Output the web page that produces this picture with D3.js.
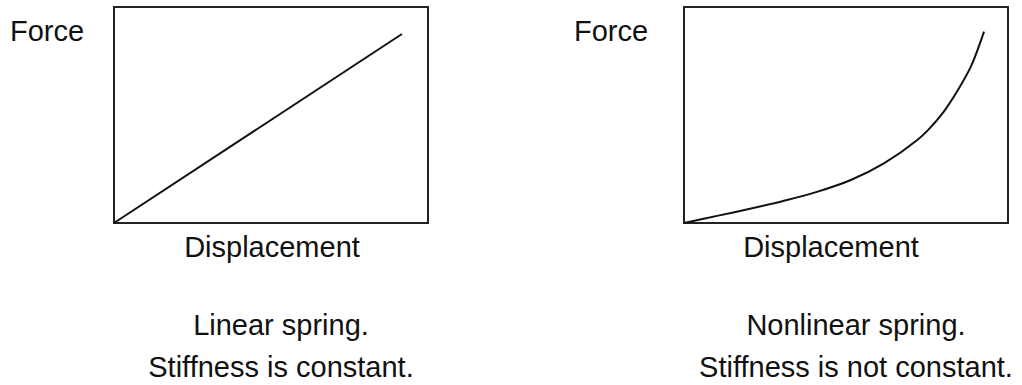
<!DOCTYPE html>
<html lang="en">
<head>
  <meta charset="UTF-8">
  <title>Linear vs Nonlinear Spring</title>
  <script src="https://d3js.org/d3.v7.min.js"></script>
  <style>
    body {
      margin: 0;
      padding: 0;
      background: #fff;
    }

    text {
      font-family: 'Liberation Sans', Arial, sans-serif;
      font-size: 29px;
      fill: #111;
    }

    .frame {
      fill: none;
      stroke: #222;
      stroke-width: 2px;
    }

    .curve {
      fill: none;
      stroke: #111;
      stroke-width: 2px;
    }
  </style>
</head>
<body>
  <div id="chart"></div>

  <script>
    // displacement / force readings, both axes 0..10 (arbitrary units)
    const linearDisp = [0, 9.17];
    const linearForce = [0, 8.75];

    const nonlinearDisp = [0, 1.02, 2.07, 3.09, 4.1, 5.15, 6.17, 7.19, 7.53, 8.02, 8.44, 8.86, 9.26];
    const nonlinearForce = [0, 0.33, 0.67, 1.03, 1.44, 1.99, 2.76, 3.83, 4.3, 5.16, 6.12, 7.26, 8.86];

    const panelTitles = ["Linear spring.", "Nonlinear spring."];
    const panelNotes = ["Stiffness is constant.", "Stiffness is not constant."];

    const width = 1022, height = 385;

    const svg = d3.select("#chart")
      .append("svg")
      .attr("width", width)
      .attr("height", height);

    const panels = [
      { x0: 114, x1: 428, forceX: 10, dispX: 272, capX: 281, disp: linearDisp, force: linearForce, curve: d3.curveLinear },
      { x0: 684, x1: 1008, forceX: 574, dispX: 831, capX: 856, disp: nonlinearDisp, force: nonlinearForce, curve: d3.curveCatmullRom.alpha(0.5) }
    ];
    const frameTop = 7, frameBottom = 223;

    panels.forEach((p, i) => {
      const x = d3.scaleLinear().domain([0, 10]).range([p.x0, p.x1]);
      const y = d3.scaleLinear().domain([0, 10]).range([frameBottom, frameTop]);

      const g = svg.append("g");

      g.append("rect")
        .attr("class", "frame")
        .attr("x", x(0))
        .attr("y", y(10))
        .attr("width", x(10) - x(0))
        .attr("height", y(0) - y(10));

      const pts = p.disp.map((d, j) => [d, p.force[j]]);
      const line = d3.line()
        .x(d => x(d[0]))
        .y(d => y(d[1]))
        .curve(p.curve);

      g.append("path")
        .attr("class", "curve")
        .attr("d", line(pts));

      g.append("text")
        .attr("x", p.forceX)
        .attr("y", 41)
        .text("Force");

      g.append("text")
        .attr("x", p.dispX)
        .attr("y", 257)
        .attr("text-anchor", "middle")
        .text("Displacement");

      g.append("text")
        .attr("x", p.capX)
        .attr("y", 335)
        .attr("text-anchor", "middle")
        .text(panelTitles[i]);

      g.append("text")
        .attr("x", p.capX)
        .attr("y", 377)
        .attr("text-anchor", "middle")
        .text(panelNotes[i]);
    });
  </script>
</body>
</html>
